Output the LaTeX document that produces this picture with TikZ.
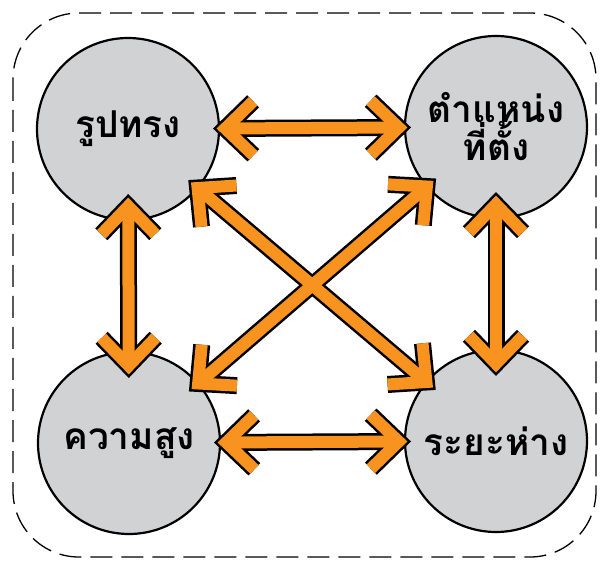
\documentclass[tikz,border=0pt]{standalone}
\usepackage{fontspec}
\newfontfamily\thaifont[Script=Thai]{Loma}
\usetikzlibrary{arrows.meta}

\definecolor{cellgray}{HTML}{D1D2D4}
\definecolor{linkorange}{HTML}{F7931E}

\tikzset{
  place/.style={circle, draw=black, line width=2.2pt, fill=cellgray,
    minimum size=182pt, inner sep=0pt, outer sep=0pt, align=center,
    font=\thaifont\bfseries\fontsize{37}{46}\selectfont},
  barbs/.style={{Straight Barb[length=28pt,width=54pt]}-{Straight Barb[length=28pt,width=54pt]}},
  linkedge/.style={barbs, draw=black, line width=17pt},
  linkcore/.style={barbs, draw=linkorange, line width=12pt},
}

\begin{document}
\begin{tikzpicture}[x=1pt,y=-1pt]
\useasboundingbox (0,0) rectangle (600,561);

% frame
\draw[dashed, dash pattern=on 22pt off 9pt, line width=1.3pt, rounded corners=66pt]
  (13,13) rectangle (596,557);

\node[place] (shape)    at (128,129) {รูปทรง};
\node[place] (location) at (496,127) {ตำแหน่ง\\[-8pt]ที่ตั้ง};
\node[place] (height)   at (129,443) {ความสูง};
\node[place] (distance) at (496,441) {ระยะห่าง};

% black outline first, orange on top so the crossing merges
\foreach \a/\b/\s in {shape/location/6pt, height/distance/6pt,
    shape/height/26pt, location/distance/26pt,
    shape/distance/12pt, height/location/12pt}
  \draw[linkedge, shorten <=-\s, shorten >=-\s] (\a) -- (\b);
\foreach \a/\b/\s in {shape/location/6pt, height/distance/6pt,
    shape/height/26pt, location/distance/26pt,
    shape/distance/12pt, height/location/12pt}
  \draw[linkcore, shorten <=-\s+3.6pt, shorten >=-\s+3.6pt] (\a) -- (\b);
\end{tikzpicture}
\end{document}
